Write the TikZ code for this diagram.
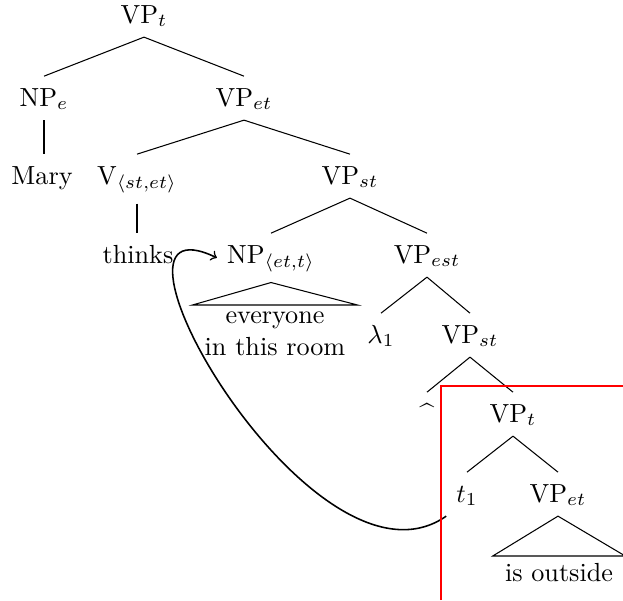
\documentclass[tikz,border=0pt]{standalone}
\usetikzlibrary{calc}

\begin{document}
\begin{tikzpicture}
  [x=0.382pt, y=-0.382pt,
   tree node/.style={anchor=base, text height=7.5pt, inner sep=3.7pt},
   roof text/.style={anchor=north, align=center, inner xsep=4.5pt, inner ysep=2.5pt}]

  \useasboundingbox (0,0) rectangle (623,600);

  % the tree, level by level
  \node [tree node] (VPt) at (144,23) {VP$_t$};

  \node [tree node] (NPe) at (44,106) {NP$_e$};
  \node [tree node] (VPet) at (244,106) {VP$_{et}$};

  \node [tree node] (Mary) at (42,184) {Mary};
  \node [tree node] (V) at (137,184) {V$_{\langle st,et\rangle}$};
  \node [tree node] (VPst) at (350,184) {VP$_{st}$};

  \node [tree node] (thinks) at (138,263) {thinks};
  \node [tree node] (NP) at (271,263) {NP$_{\langle et,t\rangle}$};
  \node [tree node] (VPest) at (427,263) {VP$_{est}$};

  \node [tree node] (lam) at (381,343) {$\lambda_1$};
  \node [tree node] (VPst2) at (470,343) {VP$_{st}$};

  \node [tree node] (and) at (427,422) {\textasciicircum};
  \node [tree node] (VPt2) at (513,422) {VP$_t$};

  \node [tree node] (t1) at (467,502) {$t_1$};
  \node [tree node] (VPet2) at (558,502) {VP$_{et}$};

  \node [roof text] (everyone) at (275,305) {everyone\\in this room};
  \node [roof text] (outside) at (559,556) {is outside};

  \draw (VPt.south) -- (NPe.north);
  \draw (VPt.south) -- (VPet.north);
  \draw (NPe.south) -- (NPe.south |- Mary.north);
  \draw (VPet.south) -- (V.north);
  \draw (VPet.south) -- (VPst.north);
  \draw (V.south) -- (V.south |- thinks.north);
  \draw (VPst.south) -- (NP.north);
  \draw (VPst.south) -- (VPest.north);
  \draw (VPest.south) -- (lam.north);
  \draw (VPest.south) -- (VPst2.north);
  \draw (VPst2.south) -- (and.north);
  \draw (VPst2.south) -- (VPt2.north);
  \draw (VPt2.south) -- (t1.north);
  \draw (VPt2.south) -- (VPet2.north);

  % roofs
  \draw (NP.south) -- (everyone.north west) -- (everyone.north east) -- cycle;
  \draw (VPet2.south) -- (outside.north west) -- (outside.north east) -- cycle;

  % movement of the quantifier
  \draw [->, semithick] (t1.south west) .. controls +(-133,93) and +(-142,-68) .. (NP.west);

  % the box round the lower part
  \draw [red, line width=0.5pt] (441,600) |- (623,386);

\end{tikzpicture}
\end{document}
